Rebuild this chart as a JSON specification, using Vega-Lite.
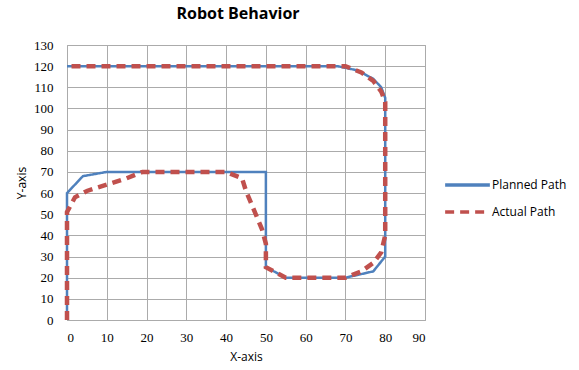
{
  "$schema": "https://vega.github.io/schema/vega-lite/v6.json",
  "autosize": {"type": "none"},
  "padding": {"left": 67, "top": 45, "right": 154, "bottom": 50},
  "width": 358,
  "height": 275,
  "background": "white",
  "title": {
    "text": "Robot Behavior",
    "font": "Open Sans",
    "fontSize": 16,
    "fontWeight": "bold",
    "color": "#000000",
    "offset": 17,
    "dx": -8
  },
  "config": {
    "view": {"stroke": "#a6a6a6", "strokeWidth": 1},
    "axis": {
      "gridColor": "#ababab",
      "gridWidth": 1,
      "domain": false,
      "ticks": false,
      "labelFont": "Liberation Serif",
      "labelFontSize": 13,
      "labelColor": "#000000",
      "titleFont": "Open Sans",
      "titleFontSize": 12,
      "titleFontWeight": "normal",
      "titleColor": "#000000"
    }
  },
  "data": {
    "values": [
      {"series": "Planned Path", "i": 1, "x": 0, "y": 0},
      {"series": "Planned Path", "i": 2, "x": 0, "y": 60},
      {"series": "Planned Path", "i": 3, "x": 4, "y": 68},
      {"series": "Planned Path", "i": 4, "x": 10, "y": 70},
      {"series": "Planned Path", "i": 5, "x": 50, "y": 70},
      {"series": "Planned Path", "i": 6, "x": 50, "y": 25},
      {"series": "Planned Path", "i": 7, "x": 55, "y": 20},
      {"series": "Planned Path", "i": 8, "x": 70, "y": 20},
      {"series": "Planned Path", "i": 9, "x": 77, "y": 23},
      {"series": "Planned Path", "i": 10, "x": 80, "y": 30},
      {"series": "Planned Path", "i": 11, "x": 80, "y": 105},
      {"series": "Planned Path", "i": 12, "x": 79, "y": 110},
      {"series": "Planned Path", "i": 13, "x": 77, "y": 114},
      {"series": "Planned Path", "i": 14, "x": 73, "y": 118},
      {"series": "Planned Path", "i": 15, "x": 68, "y": 120},
      {"series": "Planned Path", "i": 16, "x": 0, "y": 120},
      {"series": "Actual Path", "i": 1, "x": 0, "y": 0},
      {"series": "Actual Path", "i": 2, "x": 0, "y": 51},
      {"series": "Actual Path", "i": 3, "x": 2, "y": 58},
      {"series": "Actual Path", "i": 4, "x": 5, "y": 61},
      {"series": "Actual Path", "i": 5, "x": 10, "y": 64},
      {"series": "Actual Path", "i": 6, "x": 15, "y": 67},
      {"series": "Actual Path", "i": 7, "x": 19, "y": 70},
      {"series": "Actual Path", "i": 8, "x": 40, "y": 70},
      {"series": "Actual Path", "i": 9, "x": 44, "y": 67},
      {"series": "Actual Path", "i": 10, "x": 45, "y": 61},
      {"series": "Actual Path", "i": 11, "x": 49, "y": 43},
      {"series": "Actual Path", "i": 12, "x": 50, "y": 36},
      {"series": "Actual Path", "i": 13, "x": 50, "y": 25},
      {"series": "Actual Path", "i": 14, "x": 55, "y": 20},
      {"series": "Actual Path", "i": 15, "x": 70, "y": 20},
      {"series": "Actual Path", "i": 16, "x": 74, "y": 23},
      {"series": "Actual Path", "i": 17, "x": 77, "y": 27},
      {"series": "Actual Path", "i": 18, "x": 79, "y": 32},
      {"series": "Actual Path", "i": 19, "x": 80, "y": 40},
      {"series": "Actual Path", "i": 20, "x": 80, "y": 103},
      {"series": "Actual Path", "i": 21, "x": 79, "y": 108},
      {"series": "Actual Path", "i": 22, "x": 77, "y": 113},
      {"series": "Actual Path", "i": 23, "x": 74, "y": 117},
      {"series": "Actual Path", "i": 24, "x": 70, "y": 120},
      {"series": "Actual Path", "i": 25, "x": 0, "y": 120}
    ]
  },
  "encoding": {
    "x": {
      "field": "x", "type": "quantitative", "title": "X-axis",
      "scale": {"domain": [0, 90], "nice": false, "zero": false},
      "axis": {"values": [0, 10, 20, 30, 40, 50, 60, 70, 80, 90], "labelPadding": 11, "titlePadding": 7}
    },
    "y": {
      "field": "y", "type": "quantitative", "title": "Y-axis",
      "scale": {"domain": [0, 130], "nice": false, "zero": false},
      "axis": {"values": [0, 10, 20, 30, 40, 50, 60, 70, 80, 90, 100, 110, 120, 130], "labelPadding": 14, "titlePadding": 5}
    },
    "order": {"field": "i", "type": "quantitative"},
    "color": {
      "field": "series", "type": "nominal",
      "scale": {"domain": ["Planned Path", "Actual Path"], "range": ["#4f81bd", "#c0504d"]},
      "legend": {
        "title": null,
        "orient": "none",
        "legendX": 376,
        "legendY": 130,
        "symbolType": "stroke",
        "symbolSize": 2000,
        "symbolStrokeWidth": 3.5,
        "clipHeight": 20,
        "labelFont": "Open Sans",
        "labelFontSize": 12,
        "labelColor": "#000000",
        "labelOffset": 0,
        "rowPadding": 7
      }
    },
    "strokeDash": {
      "field": "series", "type": "nominal",
      "scale": {"domain": ["Planned Path", "Actual Path"], "range": [[1, 0], [9, 6]]},
      "legend": null
    }
  },
  "layer": [
    {
      "transform": [{"filter": "datum.series === 'Planned Path'"}],
      "mark": {"type": "line", "strokeWidth": 2.5, "clip": false}
    },
    {
      "transform": [{"filter": "datum.series === 'Actual Path'"}],
      "mark": {"type": "line", "strokeWidth": 4.5, "clip": false}
    }
  ]
}
